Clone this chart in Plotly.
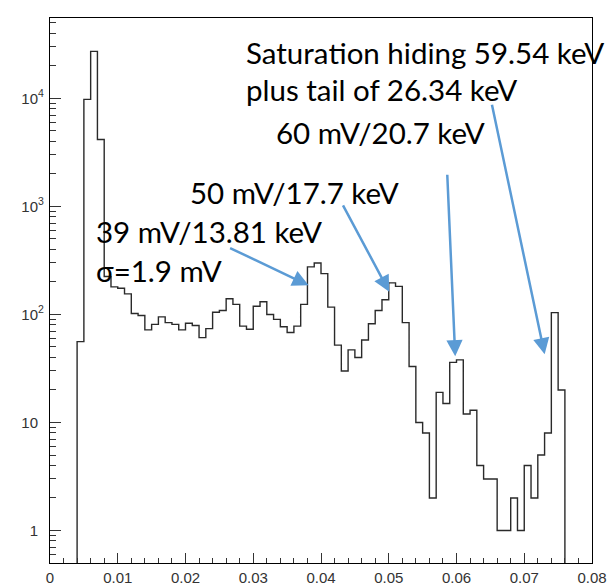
import numpy as np
import plotly.graph_objects as go

# ---- histogram content (80 bins of 1 mV-equivalent width, 0 .. 0.08) ----
bin_width = 0.001
n_bins = 80
counts = [
    0, 0, 0, 0, 56, 9800, 27300, 4170, 225, 180,
    175, 155, 102, 98, 72, 81, 95, 84, 81, 72,
    83, 79, 61, 74, 105, 109, 140, 124, 78, 73,
    119, 131, 100, 90, 77, 68, 78, 124, 276, 300,
    239, 117, 52, 30, 47, 40, 58, 82, 109, 137,
    196, 182, 84, 33, 10, 8, 2, 19, 15, 36,
    38, 12, 13, 4, 3, 3, 1, 1, 2, 1,
    4, 2, 5, 8, 104, 20, 0, 0, 0, 0,
]

# axis tick labels
x_tick_vals = [0, 0.01, 0.02, 0.03, 0.04, 0.05, 0.06, 0.07, 0.08]
x_tick_text = ["0", "0.01", "0.02", "0.03", "0.04", "0.05", "0.06", "0.07", "0.08"]
y_tick_vals = [1, 10, 100, 1000, 10000]
phantom = "<span style='color:rgba(0,0,0,0)'><sup>4</sup></span>"
y_tick_text = ["1" + phantom, "10" + phantom, "10<sup>2</sup>", "10<sup>3</sup>", "10<sup>4</sup>"]

# annotation texts (a zero-width non-joiner keeps "ti" from ligating)
label_lines = [
    "Satura\u200ction hiding 59.54 keV",
    "plus tail of 26.34 keV",
    "60 mV/20.7 keV",
    "50 mV/17.7 keV",
    "39 mV/13.81 keV",
    "σ=1.9 mV",
]

# ---- build the step outline (empty bins dive below the visible range) ----
edges = np.arange(n_bins + 1) * bin_width
y_step = np.array(counts, dtype=float)
y_step[y_step <= 0] = 1e-3
x_line = edges
y_line = np.append(y_step, y_step[-1])

fig = go.Figure()
fig.add_trace(go.Scatter(
    x=x_line, y=y_line, mode="lines", line_shape="hv",
    line=dict(color="#2a2a2a", width=1.4), hoverinfo="skip", showlegend=False,
))

# ---- layout geometry (pixels) ----
W, H = 615, 585
L, R, T, B = 49.5, 592.5, 18, 562.7


def px(xp):
    return (xp - L) / (R - L)


def py(yp):
    return (B - yp) / (B - T)


FONT = "Lato"
FS = 29.5
text_pos = [  # (left x, vertical centre y) in pixels
    (246, 52),
    (246, 89),
    (276, 132),
    (190, 192.5),
    (96, 231.5),
    (96, 270.5),
]
annotations = []
for txt, (xl, yc) in zip(label_lines, text_pos):
    annotations.append(dict(
        text=txt, xref="paper", yref="paper", x=px(xl), y=py(yc),
        xanchor="left", yanchor="middle", showarrow=False,
        font=dict(family=FONT, size=FS, color="black"),
        borderpad=0, borderwidth=0,
    ))

ARROW = "#5B9BD5"
# arrow tips at (x, log10 y) on the histogram, tails as pixel offsets
arrows = [
    (0.03817, 2.270, -80, -38),
    (0.05007, 2.210, -47, -88),
    (0.05981, 1.613, -8, -183),
    (0.07301, 1.631, -53, -251),
]
for xt, ylog, ax, ay in arrows:
    annotations.append(dict(
        x=xt, y=ylog, xref="x", yref="y", ax=ax, ay=ay,
        axref="pixel", ayref="pixel", text="", showarrow=True,
        arrowhead=2, arrowsize=1.3, arrowwidth=2.5, arrowcolor=ARROW,
    ))

tick_font = dict(family="Liberation Sans", size=15, color="#333333")
fig.update_layout(
    width=W, height=H,
    margin=dict(l=L, r=W - R, t=T, b=H - B, autoexpand=False),
    paper_bgcolor="white", plot_bgcolor="white",
    showlegend=False,
    annotations=annotations,
    xaxis=dict(
        range=[0, 0.08], showgrid=False, zeroline=False, automargin=False,
        showline=True, linecolor="black", linewidth=1.2, mirror=True,
        ticks="inside", ticklen=10, tickwidth=1, tickcolor="#333333",
        tickvals=x_tick_vals, ticktext=x_tick_text, tickfont=tick_font,
        ticklabelstandoff=1,
        minor=dict(ticks="inside", ticklen=5, tickwidth=1, tickcolor="#333333",
                   dtick=0.002, tick0=0, showgrid=False),
    ),
    yaxis=dict(
        type="log", range=[-0.301, 4.745], showgrid=False, zeroline=False,
        automargin=False,
        showline=True, linecolor="black", linewidth=1.2, mirror=True,
        ticks="inside", ticklen=11, tickwidth=1, tickcolor="#333333",
        tickvals=y_tick_vals, ticktext=y_tick_text, tickfont=tick_font,
        ticklabelstandoff=2,
        minor=dict(ticks="inside", ticklen=6, tickwidth=1, tickcolor="#333333",
                   dtick="D1", showgrid=False),
    ),
)

fig.write_html("out.html")
